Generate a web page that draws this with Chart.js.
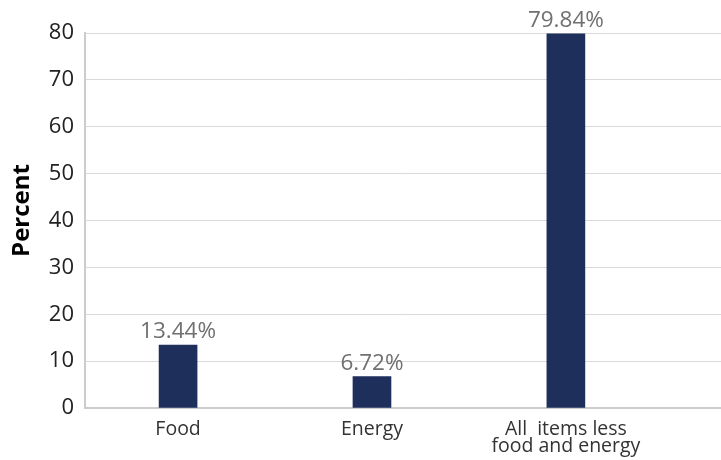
<!DOCTYPE html>
<html>
<head>
<meta charset="utf-8">
<script src="https://cdn.jsdelivr.net/npm/chart.js@4"></script>
<style>
  html, body { margin: 0; padding: 0; background: #fff; }
  #wrap { width: 721px; height: 460px; }
</style>
</head>
<body>
<div id="wrap"><canvas id="chart"></canvas></div>
<script>
const categories = ["Food", "Energy", ["All  items less", "food and energy"]];
const shares = [13.44, 6.72, 79.84];
const yTicks = [0, 10, 20, 30, 40, 50, 60, 70, 80];
const yTitle = "Percent";

const FONT = "'Open Sans'";

// value labels above each bar, plus the y axis title (sits a bit above centre)
const barLabels = {
  id: "barLabels",
  afterDatasetsDraw(chart) {
    const ctx = chart.ctx;
    const meta = chart.getDatasetMeta(0);
    ctx.save();
    ctx.font = "22.5px " + FONT;
    ctx.fillStyle = "#707070";
    ctx.textAlign = "center";
    ctx.textBaseline = "alphabetic";
    meta.data.forEach((bar, i) => {
      ctx.fillText(shares[i].toFixed(2) + "%", bar.x, bar.y - 7);
    });
    ctx.restore();

    const area = chart.chartArea;
    ctx.save();
    ctx.translate(22, (area.top + area.bottom) / 2 - 10);
    ctx.rotate(-Math.PI / 2);
    ctx.font = "bold 24px " + FONT;
    ctx.fillStyle = "#000000";
    ctx.textAlign = "center";
    ctx.textBaseline = "middle";
    ctx.fillText(yTitle, 0, 0);
    ctx.restore();
  },
};

new Chart(document.getElementById("chart"), {
  type: "bar",
  data: {
    datasets: [
      {
        data: shares.map((v, i) => ({ x: i, y: v })),
        backgroundColor: "#1f2f5b",
        barThickness: 38,
      },
    ],
  },
  options: {
    responsive: true,
    maintainAspectRatio: false,
    animation: false,
    layout: { padding: { top: 33, right: 0, bottom: 0, left: 0 } },
    plugins: {
      legend: { display: false },
      tooltip: { enabled: false },
    },
    scales: {
      x: {
        type: "linear",
        offset: false,
        min: -0.48,
        max: 2.8,
        grid: { display: false },
        border: { color: "#cccccc", width: 2 },
        afterFit: (scale) => {
          scale.height = 52;
          scale.paddingRight = 0;
          scale.paddingLeft = 0;
        },
        ticks: {
          stepSize: 1,
          autoSkip: false,
          maxRotation: 0,
          padding: 5,
          color: "#333333",
          font: { family: FONT, size: 19.5, lineHeight: 0.86 },
          callback: (v) => (Number.isInteger(v) && categories[v] !== undefined ? categories[v] : ""),
        },
      },
      y: {
        min: 0,
        max: 80,
        grid: { color: "#d9d9d9", lineWidth: 1, drawTicks: false },
        border: { color: "#cccccc", width: 2 },
        afterFit: (scale) => { scale.width = 85; },
        afterBuildTicks: (scale) => { scale.ticks = yTicks.map((v) => ({ value: v })); },
        ticks: {
          padding: 11,
          color: "#222222",
          font: { family: FONT, size: 22 },
        },
      },
    },
  },
  plugins: [barLabels],
});
</script>
</body>
</html>
